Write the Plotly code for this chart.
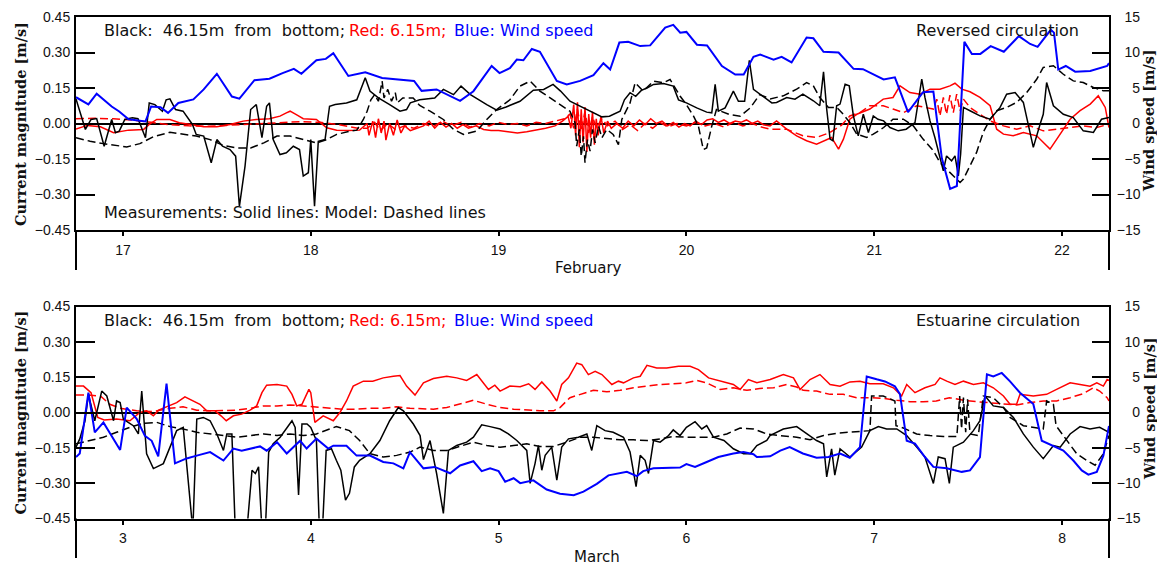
import plotly.graph_objects as go

# ---------------- February episode (reversed circulation) ----------------
feb_wind_t = [16.75, 16.816, 16.86, 16.94, 16.98, 17.03, 17.12, 17.15, 17.2, 17.24, 17.295, 17.375, 17.43, 17.5,
              17.58, 17.62, 17.70, 17.78, 17.85, 17.91, 17.95, 18.03, 18.08, 18.12, 18.2, 18.29, 18.38, 18.55,
              18.59, 18.67, 18.795, 18.866, 18.963, 19.005, 19.06, 19.097, 19.132, 19.177, 19.22, 19.31, 19.363,
              19.434, 19.505, 19.558, 19.594, 19.643, 19.69, 19.754, 19.807, 19.887, 19.93, 19.967, 20.0, 20.056,
              20.11, 20.189, 20.26, 20.305, 20.357, 20.393, 20.464, 20.507, 20.56, 20.64, 20.676, 20.73, 20.81,
              20.89, 20.94, 21.05, 21.11, 21.18, 21.26, 21.315, 21.36, 21.404, 21.44, 21.48, 21.52, 21.565, 21.62,
              21.69, 21.77, 21.83, 21.87, 21.94, 21.957, 21.98, 22.02, 22.07, 22.15, 22.24, 22.25]
feb_wind = [3.7, 2.7, 4.2, 2.4, 1.7, 0.6, 0.3, 2.4, 2.3, 1.5, 2.9, 3.4, 4.8, 7.0,
            3.8, 3.5, 6.1, 6.3, 7.1, 7.7, 7.0, 8.9, 9.1, 9.9, 6.7, 7.2, 6.4, 6.0,
            4.6, 4.8, 3.2, 4.55, 8.1, 7.1, 7.8, 9.0, 8.9, 10.5, 10.1, 6.0, 5.5,
            6.0, 6.8, 8.5, 7.6, 11.4, 11.5, 10.9, 11.0, 13.5, 13.9, 12.8, 12.9, 11.1,
            11.0, 8.1, 6.9, 6.9, 9.4, 9.7, 9.0, 9.4, 8.6, 12.1, 12.0, 10.1, 10.0,
            7.7, 7.65, 6.2, 6.5, 1.6, 4.4, 4.5, -4.9, -9.2, -8.8, 11.5, 9.8, 9.8, 10.9,
            10.1, 12.3, 11.2, 10.8, 13.2, 12.8, 7.6, 8.1, 7.3, 7.4, 8.1, 8.5]

# measured current, 46.15 m from bottom
feb_obs46_t = [16.75, 16.77, 16.80, 16.83, 16.86, 16.90, 16.94, 16.96, 16.98, 17.01, 17.05, 17.08, 17.12, 17.14,
               17.17, 17.21, 17.23, 17.25, 17.28, 17.32, 17.37, 17.39, 17.43, 17.47, 17.50, 17.53, 17.57, 17.60,
               17.62, 17.65, 17.68, 17.71, 17.74, 17.765, 17.78, 17.80, 17.836, 17.87, 17.907, 17.94, 17.96,
               17.987, 18.0, 18.02, 18.04, 18.076, 18.10, 18.13, 18.19, 18.245, 18.29, 18.315, 18.36, 18.42,
               18.475, 18.51, 18.53, 18.58, 18.66, 18.706, 18.76, 18.80, 18.85, 18.937, 18.99, 19.04, 19.114,
               19.185, 19.24, 19.29, 19.33, 19.38, 19.47, 19.55, 19.59, 19.647, 19.67, 19.70, 19.73, 19.76, 19.79,
               19.825, 19.878, 19.93, 19.958, 20.0, 20.055, 20.108, 20.135, 20.153, 20.17, 20.206, 20.25, 20.277,
               20.31, 20.335, 20.357, 20.41, 20.455, 20.48, 20.534, 20.578, 20.62, 20.676, 20.71, 20.73, 20.747,
               20.765, 20.78, 20.8, 20.818, 20.845, 20.867, 20.889, 20.915, 20.942, 20.969, 20.995, 21.02, 21.05,
               21.084, 21.128, 21.17, 21.217, 21.253, 21.27, 21.297, 21.323, 21.35, 21.368, 21.385, 21.412, 21.43,
               21.448, 21.46, 21.475, 21.51, 21.563, 21.617, 21.67, 21.705, 21.75, 21.794, 21.847, 21.883, 21.9,
               21.918, 21.954, 22.007, 22.06, 22.113, 22.167, 22.21, 22.25]
feb_obs46 = [0.104, 0.052, -0.025, 0.017, 0.021, -0.096, 0.017, -0.039, -0.032, 0.017, 0.024, 0.02, -0.06, 0.087,
             0.08, 0.052, 0.10, 0.104, 0.059, 0.052, -0.004, -0.046, -0.053, -0.166, -0.068, -0.096, -0.11, -0.138,
             -0.35, -0.18, 0.059, 0.08, -0.06, 0.073, 0.087, -0.068, -0.131, -0.124, -0.096, -0.11, -0.222,
             -0.208, -0.068, -0.35, -0.075, -0.068, 0.073, 0.08, 0.087, 0.10, 0.193, 0.137, 0.108, 0.08,
             0.052, 0.059, 0.087, 0.10, 0.108, 0.144, 0.122, 0.158, 0.122, 0.08, 0.056, 0.07, 0.094,
             0.141, 0.144, 0.165, 0.137, 0.094, 0.059, 0.028, 0.031, 0.052, 0.10, 0.13, 0.115, 0.14, 0.15,
             0.165, 0.169, 0.158, 0.10, 0.087, 0.066, 0.048, 0.045, 0.165, 0.052, 0.066, 0.137, 0.094,
             0.094, 0.267, 0.144, 0.115, 0.087, 0.089, 0.11, 0.103, 0.124, 0.096, 0.075, 0.218, 0.06,
             -0.066, -0.073, 0.075, 0.082, 0.166, 0.159, 0.032, -0.052, 0.039, -0.038, 0.032, 0.018, 0.011,
             -0.017, -0.031, -0.024, 0.004, 0.187, 0.11, 0.011, -0.059, -0.15, -0.2, -0.137, -0.158, -0.137,
             -0.221, -0.13, 0.068, 0.054, 0.032, 0.018, 0.068, 0.124, 0.131, 0.089, -0.101, -0.003, 0.039,
             0.173, 0.075, 0.039, 0.025, -0.031, -0.038, 0.018, 0.025]

# modelled current, 46.15 m from bottom
feb_mod46_t = [16.75, 16.825, 16.895, 17.02, 17.09, 17.162, 17.25, 17.32, 17.39, 17.464, 17.535, 17.605, 17.68,
               17.75, 17.82, 17.89, 17.96, 18.03, 18.085, 18.138, 18.21, 18.245, 18.28, 18.30, 18.32, 18.34, 18.36,
               18.38, 18.39, 18.41, 18.43, 18.45, 18.46, 18.49, 18.545, 18.58, 18.635, 18.706, 18.76, 18.813,
               18.884, 18.937, 18.99, 19.06, 19.114, 19.168, 19.22, 19.274, 19.327, 19.38, 19.407, 19.416, 19.43,
               19.44, 19.452, 19.46, 19.473, 19.487, 19.5, 19.514, 19.532, 19.55, 19.576, 19.61, 19.638, 19.656,
               19.70, 19.727, 19.77, 19.825, 19.878, 19.913, 19.967, 20.0, 20.038, 20.064, 20.09, 20.108, 20.135,
               20.16, 20.23, 20.286, 20.34, 20.39, 20.446, 20.516, 20.587, 20.64, 20.676, 20.71, 20.756, 20.8,
               20.835, 20.87, 20.907, 20.96, 20.995, 21.05, 21.1, 21.155, 21.208, 21.26, 21.315, 21.35, 21.385,
               21.42, 21.457, 21.475, 21.51, 21.545, 21.58, 21.617, 21.652, 21.705, 21.758, 21.812, 21.865, 21.9,
               21.954, 22.007, 22.06, 22.113, 22.167, 22.22, 22.25]
feb_mod46 = [-0.06, -0.075, -0.085, -0.099, -0.085, -0.056, -0.037, -0.046, -0.053, -0.068, -0.093, -0.103, -0.103,
             -0.082, -0.053, -0.053, -0.068, -0.082, -0.068, -0.046, -0.032, -0.028, 0.017, 0.052, 0.10, 0.122, 0.094,
             0.179, 0.108, 0.144, 0.094, 0.13, 0.087, 0.108, 0.108, 0.076, 0.052, 0.017, -0.025, -0.046,
             -0.032, 0.017, 0.059, 0.10, 0.158, 0.179, 0.137, 0.108, 0.08, 0.052, 0.003, -0.096, -0.025,
             -0.138, -0.054, -0.166, -0.068, -0.117, -0.025, -0.082, -0.011, -0.06, -0.025, -0.046, -0.089, 0.017,
             0.087, 0.172, 0.137, 0.179, 0.172, 0.186, 0.115, 0.08, 0.031, -0.011, -0.11, -0.103, -0.011,
             0.059, 0.038, 0.031, 0.066, 0.122, 0.104, 0.117, 0.145, 0.173, 0.159, 0.11, 0.068, 0.068,
             0.039, 0.004, -0.045, -0.059, -0.045, -0.017, 0.018, 0.018, -0.01, -0.066, -0.115, -0.165, -0.193,
             -0.221, -0.249, -0.235, -0.179, -0.122, -0.038, 0.018, 0.054, 0.068, 0.089, 0.131, 0.187, 0.237,
             0.244, 0.208, 0.18, 0.173, 0.152, 0.138, 0.138]

# measured current, 6.15 m from bottom
feb_obs6_t = [16.75, 16.81, 16.88, 16.95, 17.03, 17.11, 17.14, 17.18, 17.25, 17.3, 17.36, 17.43, 17.5, 17.57, 17.64,
              17.71, 17.78, 17.836, 17.87, 17.89, 17.93, 17.96, 18.03, 18.085, 18.138, 18.2, 18.26, 18.3, 18.31,
              18.33, 18.345, 18.36, 18.375, 18.39, 18.40, 18.42, 18.44, 18.46, 18.48, 18.50, 18.53, 18.56, 18.60,
              18.63, 18.66, 18.69, 18.72, 18.75, 18.78, 18.81, 18.84, 18.88, 18.92, 18.96, 19.0, 19.05, 19.1,
              19.15, 19.2, 19.25, 19.3, 19.34, 19.37, 19.385, 19.40, 19.41, 19.42, 19.43, 19.44, 19.45, 19.46,
              19.47, 19.48, 19.49, 19.50, 19.51, 19.52, 19.53, 19.545, 19.56, 19.58, 19.60, 19.63, 19.66, 19.69,
              19.72, 19.75, 19.78, 19.81, 19.84, 19.87, 19.9, 19.93, 19.96, 19.99, 20.02, 20.05, 20.08, 20.11,
              20.14, 20.17, 20.2, 20.23, 20.26, 20.29, 20.32, 20.35, 20.38, 20.41, 20.445, 20.48, 20.534, 20.587,
              20.64, 20.693, 20.747, 20.773, 20.81, 20.836, 20.87, 20.907, 20.977, 21.048, 21.1, 21.137, 21.19,
              21.244, 21.297, 21.35, 21.403, 21.43, 21.466, 21.51, 21.563, 21.617, 21.652, 21.688, 21.74, 21.794,
              21.865, 21.936, 21.972, 22.007, 22.043, 22.096, 22.15, 22.193, 22.23, 22.25]
feb_obs6 = [-0.023, -0.008, -0.014, -0.039, -0.028, -0.025, -0.004, 0.017, 0.017, 0.003, -0.004, -0.014, -0.014,
            -0.004, 0.01, 0.017, 0.02, 0.031, 0.045, 0.052, 0.034, 0.02, 0.017, -0.018, -0.028, -0.03, -0.028, 0.0,
            -0.05, 0.01, -0.06, 0.02, -0.04, 0.01, -0.07, 0.0, -0.05, 0.015, -0.04, -0.01, -0.03, -0.02, -0.01,
            0.01, -0.02, 0.005, -0.015, 0.0, -0.02, -0.005, -0.02, -0.01, -0.025, -0.03, -0.03, -0.035, -0.04,
            -0.035, -0.028, -0.02, -0.01, 0.01, 0.03, -0.02, 0.08, -0.05, 0.09, -0.1, 0.06, -0.08, 0.07,
            -0.12, 0.04, -0.06, 0.05, -0.09, 0.02, -0.05, 0.03, -0.04, 0.01, -0.02, 0.0, -0.02, 0.01,
            -0.01, 0.015, -0.005, 0.02, 0.0, 0.01, -0.01, 0.005, -0.015, 0.0, -0.01, 0.01, -0.005, 0.015,
            0.02, 0.005, 0.015, 0.0, 0.01, 0.005, 0.015, 0.0, 0.01, -0.005, -0.01, 0.011, -0.024, -0.052,
            -0.073, -0.087, -0.066, -0.059, -0.108, -0.066, 0.018, 0.039, 0.061, 0.103, 0.11, 0.159, 0.131,
            0.124, 0.145, 0.145, 0.159, 0.17, 0.145, 0.134, 0.11, 0.075, -0.024, -0.045, -0.052, -0.038,
            -0.052, -0.108, -0.066, -0.024, 0.018, 0.054, 0.082, 0.117, 0.068, -0.017]

# modelled current, 6.15 m from bottom
feb_mod6_t = [16.75, 16.85, 16.95, 17.05, 17.15, 17.25, 17.35, 17.45, 17.55, 17.65, 17.75, 17.85, 17.95, 18.05,
              18.15, 18.25, 18.3, 18.34, 18.37, 18.41, 18.45, 18.5, 18.55, 18.6, 18.65, 18.7, 18.75, 18.8, 18.85,
              18.9, 18.95, 19.0, 19.05, 19.1, 19.15, 19.2, 19.25, 19.3, 19.35, 19.38, 19.40, 19.42, 19.44, 19.46,
              19.48, 19.50, 19.52, 19.55, 19.58, 19.62, 19.66, 19.7, 19.74, 19.78, 19.82, 19.86, 19.9, 19.95,
              20.0, 20.05, 20.1, 20.15, 20.2, 20.25, 20.3, 20.35, 20.4, 20.445, 20.534, 20.62, 20.693, 20.765,
              20.826, 20.87, 20.924, 20.977, 21.048, 21.1, 21.155, 21.226, 21.315, 21.333, 21.35, 21.368, 21.385,
              21.403, 21.421, 21.439, 21.457, 21.475, 21.51, 21.563, 21.617, 21.688, 21.758, 21.83, 21.9,
              21.972, 22.043, 22.113, 22.185, 22.25]
feb_mod6 = [0.02, 0.022, 0.02, 0.015, 0.005, -0.005, -0.01, -0.012, -0.008, -0.004, 0.0, 0.004, 0.008, 0.005,
            -0.005, -0.02, -0.02, 0.005, -0.03, 0.0, -0.025, -0.01, -0.02, 0.0, -0.015, 0.01, -0.01, 0.005, -0.015,
            0.0, -0.01, 0.005, -0.005, 0.0, -0.01, 0.005, 0.0, 0.01, 0.02, 0.04, -0.02, 0.06, -0.03, 0.05,
            -0.04, 0.03, -0.02, 0.02, -0.01, 0.01, -0.025, -0.005, -0.03, 0.0, -0.02, 0.005, -0.015, 0.0,
            -0.01, 0.005, -0.01, 0.0, -0.015, 0.005, -0.01, 0.0, -0.015, -0.024, -0.024, -0.052, -0.059, -0.038,
            -0.007, 0.032, 0.046, 0.075, 0.075, 0.061, 0.046, 0.075, 0.061, 0.103, 0.032, 0.11, 0.039,
            0.12, 0.046, 0.124, 0.053, 0.103, 0.068, 0.039, 0.011, -0.01, -0.024, -0.01, -0.031,
            -0.024, -0.017, -0.01, -0.017, -0.003]

# ---------------- March episode (estuarine circulation) ----------------
mar_wind_t = [2.75, 2.77, 2.816, 2.85, 2.896, 2.985, 3.02, 3.073, 3.117, 3.153, 3.188, 3.232, 3.277, 3.339, 3.393,
              3.464, 3.535, 3.588, 3.632, 3.677, 3.73, 3.765, 3.82, 3.872, 3.943, 3.978, 4.03, 4.093, 4.12, 4.19,
              4.244, 4.315, 4.386, 4.44, 4.493, 4.528, 4.6, 4.66, 4.742, 4.795, 4.866, 4.91, 4.955, 5.0, 5.035,
              5.08, 5.115, 5.185, 5.256, 5.327, 5.4, 5.452, 5.523, 5.585, 5.647, 5.683, 5.736, 5.77, 5.825, 5.895,
              5.966, 6.0, 6.046, 6.108, 6.17, 6.25, 6.304, 6.357, 6.375, 6.446, 6.5, 6.55, 6.62, 6.693, 6.756,
              6.818, 6.87, 6.924, 6.96, 7.013, 7.057, 7.11, 7.137, 7.173, 7.217, 7.27, 7.315, 7.386, 7.466, 7.51,
              7.563, 7.6, 7.634, 7.679, 7.723, 7.776, 7.847, 7.892, 7.954, 8.007, 8.06, 8.105, 8.14, 8.185, 8.22,
              8.25]
mar_wind = [-6.3, -5.8, 2.8, -2.8, -1.4, -5.3, 0.7, -0.9, -3.3, -4.0, -6.2, 4.1, -7.2, -6.5, -6.1,
            -5.6, -6.8, -5.1, -5.4, -5.1, -4.8, -5.4, -4.2, -5.8, -4.0, -5.1, -3.7, -5.1, -4.7, -4.7,
            -6.1, -6.1, -7.0, -7.2, -7.9, -5.6, -7.9, -7.7, -8.6, -7.5, -6.9, -8.3, -7.9, -8.3, -9.8,
            -9.3, -10.0, -9.6, -10.9, -11.5, -11.7, -11.2, -10.1, -8.9, -8.6, -8.4, -9.0, -8.3, -7.9, -7.9,
            -7.8, -7.3, -7.7, -7.0, -6.3, -5.8, -5.6, -5.9, -6.3, -6.2, -5.4, -4.9, -5.8, -6.4, -6.3,
            -5.8, -6.4, -4.9, 5.1, 4.7, 4.4, 3.7, 2.6, -4.0, -4.4, -6.3, -7.7, -7.9, -8.4, -8.2,
            -6.3, 5.4, 5.1, 5.6, 4.4, 2.8, 1.2, -4.0, -4.7, -5.4, -6.8, -8.2, -8.8, -8.4, -6.1,
            -1.9]

mar_obs46_t = [2.75, 2.77, 2.798, 2.816, 2.833, 2.85, 2.887, 2.914, 2.95, 2.966, 2.985, 3.002, 3.028, 3.055, 3.082,
               3.1, 3.126, 3.162, 3.215, 3.25, 3.286, 3.321, 3.348, 3.372, 3.393, 3.428, 3.464, 3.5, 3.535, 3.553,
               3.58, 3.598, 3.66, 3.687, 3.705, 3.722, 3.74, 3.758, 3.776, 3.8, 3.837, 3.872, 3.9, 3.917, 3.935,
               3.953, 3.98, 4.0, 4.03, 4.046, 4.062, 4.082, 4.11, 4.136, 4.16, 4.185, 4.206, 4.232, 4.26, 4.315,
               4.368, 4.42, 4.466, 4.493, 4.546, 4.582, 4.6, 4.635, 4.67, 4.706, 4.733, 4.777, 4.83, 4.866, 4.91,
               4.955, 5.008, 5.052, 5.097, 5.15, 5.168, 5.194, 5.212, 5.23, 5.248, 5.283, 5.31, 5.336, 5.372,
               5.425, 5.47, 5.496, 5.523, 5.567, 5.61, 5.665, 5.7, 5.732, 5.754, 5.78, 5.798, 5.825, 5.86, 5.905,
               5.93, 5.966, 6.0, 6.046, 6.082, 6.108, 6.144, 6.2, 6.25, 6.304, 6.34, 6.375, 6.428, 6.445, 6.516,
               6.587, 6.64, 6.693, 6.73, 6.747, 6.773, 6.79, 6.818, 6.871, 6.933, 6.977, 7.022, 7.066, 7.12, 7.173,
               7.226, 7.27, 7.315, 7.341, 7.377, 7.4, 7.421, 7.475, 7.528, 7.563, 7.59, 7.634, 7.688, 7.741, 7.794,
               7.847, 7.9, 7.954, 7.99, 8.043, 8.096, 8.149, 8.2, 8.25]
mar_obs46 = [-0.147, -0.112, -0.035, 0.077, 0.021, -0.035, 0.091, 0.07, -0.035, 0.049, 0.042, -0.028, -0.042, -0.056,
             -0.091, 0.091, -0.175, -0.238, -0.217, -0.147, -0.077, -0.063, -0.301, -0.50, -0.028, -0.021, -0.035,
             -0.091, -0.161, -0.091, -0.091, -0.50, -0.50, -0.245, -0.259, -0.231, -0.50, -0.50, -0.168, -0.133,
             -0.105, -0.063, -0.035, -0.063, -0.35, -0.049, -0.049, -0.063, -0.119, -0.50, -0.50, -0.161, -0.154,
             -0.203, -0.245, -0.372, -0.343, -0.231, -0.203, -0.175, -0.119, -0.035, 0.021, 0.007, -0.049, -0.098,
             -0.2, -0.119, -0.259, -0.428, -0.161, -0.14, -0.126, -0.105, -0.052, -0.06, -0.07, -0.091, -0.119,
             -0.161, -0.301, -0.217, -0.14, -0.245, -0.182, -0.147, -0.287, -0.147, -0.112, -0.105, -0.091, -0.161,
             -0.056, -0.077, -0.084, -0.105, -0.168, -0.315, -0.182, -0.203, -0.259, -0.119, -0.126, -0.098,
             -0.074, -0.098, -0.063, -0.039, -0.07, -0.056, -0.105, -0.119, -0.154, -0.175, -0.175, -0.14, -0.119,
             -0.098, -0.07, -0.06, -0.091, -0.119, -0.133, -0.273, -0.154, -0.266, -0.154, -0.189, -0.147, -0.077,
             -0.06, -0.07, -0.07, -0.098, -0.147, -0.189, -0.301, -0.189, -0.196, -0.301, -0.147, -0.126, -0.077,
             -0.035, 0.07, 0.028, 0.021, -0.021, -0.091, -0.147, -0.196, -0.14, -0.147, -0.091, -0.06, -0.07,
             -0.063, -0.084]

mar_mod46_t = [2.75, 2.83, 2.896, 2.966, 3.037, 3.108, 3.18, 3.25, 3.32, 3.393, 3.464, 3.535, 3.605, 3.677, 3.75,
               3.82, 3.89, 3.96, 4.03, 4.1, 4.136, 4.206, 4.26, 4.315, 4.386, 4.457, 4.528, 4.582, 4.653, 4.724,
               4.795, 4.866, 4.937, 5.008, 5.08, 5.15, 5.22, 5.292, 5.363, 5.434, 5.505, 5.576, 5.647, 5.718, 5.79,
               5.86, 5.93, 6.0, 6.073, 6.144, 6.215, 6.286, 6.357, 6.428, 6.5, 6.587, 6.658, 6.73, 6.8, 6.871,
               6.942, 6.977, 6.986, 7.048, 7.11, 7.116, 7.155, 7.226, 7.297, 7.368, 7.44, 7.455, 7.465, 7.475,
               7.487, 7.497, 7.51, 7.554, 7.581, 7.634, 7.688, 7.723, 7.794, 7.865, 7.9, 7.918, 7.954, 7.968,
               8.007, 8.078, 8.131, 8.176, 8.22, 8.25]
mar_mod46 = [-0.133, -0.116, -0.105, -0.084, -0.063, -0.046, -0.042, -0.06, -0.07, -0.084, -0.091, -0.098, -0.105,
             -0.098, -0.091, -0.098, -0.091, -0.098, -0.091, -0.07, -0.06, -0.077, -0.119, -0.175, -0.189, -0.182,
             -0.168, -0.147, -0.161, -0.161, -0.144, -0.126, -0.14, -0.147, -0.14, -0.133, -0.144, -0.144, -0.126,
             -0.105, -0.105, -0.112, -0.116, -0.116, -0.119, -0.112, -0.102, -0.105, -0.105, -0.105, -0.091,
             -0.066, -0.07, -0.091, -0.098, -0.105, -0.116, -0.098, -0.088, -0.084, -0.077, -0.077, 0.07, 0.07,
             0.049, -0.056, -0.066, -0.091, -0.098, -0.102, -0.102, 0.07, -0.07, 0.063, -0.084, 0.056, -0.091,
             -0.098, 0.07, 0.063, 0.021, -0.021, -0.056, -0.066, -0.07, 0.049, 0.035, -0.056, -0.098, -0.175,
             -0.203, -0.224, -0.175, -0.098]

mar_obs6_t = [2.75, 2.79, 2.83, 2.866, 2.9, 2.966, 3.037, 3.09, 3.126, 3.162, 3.19, 3.23, 3.286, 3.33, 3.375, 3.41,
              3.446, 3.49, 3.522, 3.55, 3.588, 3.632, 3.677, 3.712, 3.74, 3.765, 3.82, 3.872, 3.9, 3.925, 3.953,
              3.99, 4.0, 4.022, 4.066, 4.12, 4.155, 4.19, 4.226, 4.28, 4.33, 4.386, 4.44, 4.475, 4.51, 4.555, 4.6,
              4.653, 4.724, 4.777, 4.83, 4.884, 4.946, 4.98, 5.008, 5.06, 5.115, 5.16, 5.194, 5.23, 5.274, 5.31,
              5.336, 5.372, 5.416, 5.443, 5.478, 5.514, 5.55, 5.603, 5.638, 5.665, 5.718, 5.754, 5.79, 5.842,
              5.895, 5.958, 6.02, 6.064, 6.118, 6.18, 6.25, 6.286, 6.33, 6.375, 6.446, 6.516, 6.57, 6.605, 6.658,
              6.711, 6.765, 6.818, 6.871, 6.924, 6.977, 7.048, 7.102, 7.146, 7.173, 7.217, 7.27, 7.324, 7.35,
              7.386, 7.43, 7.475, 7.528, 7.581, 7.634, 7.688, 7.723, 7.758, 7.776, 7.847, 7.918, 7.971, 8.043,
              8.096, 8.149, 8.185, 8.22, 8.24, 8.25]
mar_obs6 = [0.112, 0.112, 0.084, -0.021, -0.032, -0.028, -0.035, 0.0, 0.007, -0.014, 0.01, 0.024, 0.042, 0.066,
            0.049, 0.035, 0.007, 0.007, -0.014, -0.035, -0.014, -0.007, 0.01, 0.028, 0.084, 0.116, 0.119, 0.112,
            0.077, 0.028, 0.035, 0.098, 0.084, -0.042, -0.014, -0.035, 0.0, 0.049, 0.112, 0.133, 0.133, 0.147,
            0.154, 0.157, 0.112, 0.074, 0.126, 0.144, 0.154, 0.147, 0.136, 0.161, 0.098, 0.116, 0.091, 0.112,
            0.109, 0.122, 0.098, 0.13, 0.091, 0.049, 0.119, 0.147, 0.21, 0.203, 0.161, 0.175, 0.161, 0.119,
            0.133, 0.126, 0.147, 0.154, 0.2, 0.189, 0.189, 0.196, 0.196, 0.182, 0.147, 0.133, 0.119, 0.098,
            0.14, 0.126, 0.14, 0.161, 0.147, 0.098, 0.14, 0.161, 0.119, 0.112, 0.13, 0.133, 0.122, 0.122, 0.105,
            0.07, 0.119, 0.084, 0.105, 0.119, 0.147, 0.133, 0.119, 0.133, 0.119, 0.126, 0.105, 0.07, 0.035,
            0.035, 0.077, 0.07, 0.077, 0.098, 0.126, 0.119, 0.112, 0.126, 0.112, 0.14, 0.136]

mar_mod6_t = [2.75, 2.81, 2.88, 2.93, 2.985, 3.073, 3.162, 3.25, 3.32, 3.393, 3.464, 3.535, 3.605, 3.677, 3.75, 3.82,
              3.89, 3.96, 4.03, 4.1, 4.17, 4.244, 4.315, 4.386, 4.457, 4.528, 4.6, 4.653, 4.724, 4.795, 4.866,
              4.937, 5.008, 5.08, 5.15, 5.22, 5.292, 5.327, 5.38, 5.434, 5.505, 5.576, 5.647, 5.718, 5.79, 5.86,
              5.93, 6.0, 6.055, 6.108, 6.18, 6.25, 6.322, 6.39, 6.464, 6.5, 6.534, 6.587, 6.622, 6.693, 6.765,
              6.835, 6.906, 6.977, 7.048, 7.12, 7.19, 7.26, 7.33, 7.4, 7.475, 7.545, 7.616, 7.688, 7.758, 7.83,
              7.9, 7.971, 8.043, 8.113, 8.167, 8.2, 8.24, 8.25]
mar_mod6 = [0.074, 0.074, 0.07, 0.035, 0.018, 0.007, 0.004, 0.018, 0.024, 0.01, 0.007, 0.007, 0.01, 0.018, 0.028,
            0.028, 0.032, 0.028, 0.024, 0.018, 0.014, 0.014, 0.018, 0.018, 0.024, 0.018, 0.014, 0.014, 0.021,
            0.038, 0.052, 0.035, 0.021, 0.014, 0.01, 0.007, 0.007, 0.021, 0.063, 0.077, 0.094, 0.088, 0.094,
            0.105, 0.112, 0.119, 0.122, 0.126, 0.136, 0.126, 0.098, 0.105, 0.094, 0.102, 0.105, 0.112, 0.119,
            0.108, 0.094, 0.091, 0.077, 0.077, 0.063, 0.063, 0.06, 0.052, 0.046, 0.046, 0.049, 0.063, 0.052,
            0.046, 0.042, 0.035, 0.032, 0.042, 0.049, 0.049, 0.063, 0.08, 0.105, 0.091, 0.063, 0.049]

# ---------------- axis ticks ----------------
feb_days = [17, 18, 19, 20, 21, 22]
mar_days = [3, 4, 5, 6, 7, 8]
cur_ticks = [-0.45, -0.30, -0.15, 0.0, 0.15, 0.30, 0.45]
cur_labels = ["\u22120.45", "\u22120.30", "\u22120.15", "0.00", "0.15", "0.30", "0.45"]
wind_ticks = [-15, -10, -5, 0, 5, 10, 15]
FS = "\u2007"  # figure space keeps the right-hand labels flush right
wind_labels = ["\u221215", "\u221210", FS + "\u22125", FS + FS + "0", FS + FS + "5", FS + "10", FS + "15"]

# ---------------- page geometry (pixels) ----------------
W, H = 1157, 566
X0, X1 = 76, 1109
TOP_Y0, TOP_Y1 = 17, 230
BOT_Y0, BOT_Y1 = 306.5, 518.5


def fx(p):
    return p / W


def fy(p):
    return 1 - p / H


BLACK = "#000000"
RED = "#ff0000"
BLUE = "#0000ff"
DASH = "8px,4px"
TICKFONT = dict(family="Liberation Sans, Arial, sans-serif", size=14, color="#111111")

fig = go.Figure()


def add_panel(xa, ya, ya2, t_w, w, t_o46, o46, t_m46, m46, t_o6, o6, t_m6, m6):
    fig.add_trace(go.Scatter(x=t_w, y=w, xaxis=xa, yaxis=ya2, mode="lines",
                             line=dict(color=BLUE, width=2), showlegend=False))
    fig.add_trace(go.Scatter(x=t_o6, y=o6, xaxis=xa, yaxis=ya, mode="lines",
                             line=dict(color=RED, width=1.5), showlegend=False))
    fig.add_trace(go.Scatter(x=t_m6, y=m6, xaxis=xa, yaxis=ya, mode="lines",
                             line=dict(color=RED, width=1.5, dash=DASH), showlegend=False))
    fig.add_trace(go.Scatter(x=t_o46, y=o46, xaxis=xa, yaxis=ya, mode="lines",
                             line=dict(color=BLACK, width=1.5), showlegend=False))
    fig.add_trace(go.Scatter(x=t_m46, y=m46, xaxis=xa, yaxis=ya, mode="lines",
                             line=dict(color=BLACK, width=1.5, dash=DASH), showlegend=False))


add_panel("x", "y", "y2", feb_wind_t, feb_wind, feb_obs46_t, feb_obs46, feb_mod46_t, feb_mod46,
          feb_obs6_t, feb_obs6, feb_mod6_t, feb_mod6)
add_panel("x2", "y3", "y4", mar_wind_t, mar_wind, mar_obs46_t, mar_obs46, mar_mod46_t, mar_mod46,
          mar_obs6_t, mar_obs6, mar_mod6_t, mar_mod6)


def xaxis_cfg(rng, ticks, anchor):
    return dict(domain=[fx(X0), fx(X1)], range=rng, tickvals=ticks, ticktext=[str(t) for t in ticks],
                ticks="outside", ticklen=4, tickwidth=1.5, tickcolor=BLACK,
                showline=True, linewidth=2, linecolor=BLACK, mirror=True,
                showgrid=False, zeroline=False, anchor=anchor, tickfont=TICKFONT,
                ticklabelstandoff=2, automargin=False, fixedrange=True)


def ycur_cfg(dom, anchor):
    return dict(domain=dom, range=[-0.45, 0.45], tickvals=cur_ticks, ticktext=cur_labels,
                ticks="inside", ticklen=19, tickwidth=1.5, tickcolor=BLACK,
                showline=True, linewidth=2, linecolor=BLACK, showgrid=False,
                zeroline=True, zerolinecolor=BLACK, zerolinewidth=1.5,
                anchor=anchor, tickfont=TICKFONT, ticklabelstandoff=1, automargin=False, fixedrange=True)


def ywind_cfg(over, anchor):
    return dict(overlaying=over, side="right", range=[-15, 15], tickvals=wind_ticks, ticktext=wind_labels,
                ticks="inside", ticklen=17, tickwidth=1.5, tickcolor=BLACK,
                showline=True, linewidth=2, linecolor=BLACK, showgrid=False, zeroline=False,
                anchor=anchor, tickfont=TICKFONT, ticklabelstandoff=3, automargin=False, fixedrange=True)


top_dom = [fy(TOP_Y1), fy(TOP_Y0)]
bot_dom = [fy(BOT_Y1), fy(BOT_Y0)]

fig.update_layout(
    template="none",
    width=W, height=H, margin=dict(l=0, r=0, t=0, b=0, pad=0, autoexpand=False),
    paper_bgcolor="white", plot_bgcolor="white", showlegend=False,
    xaxis=xaxis_cfg([16.75, 22.25], feb_days, "y"),
    yaxis=ycur_cfg(top_dom, "x"),
    yaxis2=ywind_cfg("y", "x"),
    xaxis2=xaxis_cfg([2.75, 8.25], mar_days, "y3"),
    yaxis3=ycur_cfg(bot_dom, "x2"),
    yaxis4=ywind_cfg("y3", "x2"),
)

# left / right frame lines run on below each time axis
shapes = []
for y_top, y_end in ((TOP_Y1, 270), (BOT_Y1, 558)):
    for xp in (X0, X1):
        shapes.append(dict(type="line", xref="paper", yref="paper", x0=fx(xp), x1=fx(xp),
                           y0=fy(y_top), y1=fy(y_end), line=dict(color=BLACK, width=2)))
fig.update_layout(shapes=shapes)

TXT = dict(family="DejaVu Sans", size=16)
TITLE = dict(family="DejaVu Serif", size=14.5, color="#111111")
ann = []
for yc, label, xr in ((31, "Reversed circulation", 1081), (320, "Estuarine circulation", 1082)):
    ann.append(dict(text="Black:\u00a0\u00a046.15m\u00a0\u00a0from\u00a0\u00a0bottom;", x=fx(102), y=fy(yc),
                    xanchor="left", yanchor="middle", font=dict(TXT, color="#111111")))
    ann.append(dict(text="Red: 6.15m;", x=fx(347), y=fy(yc), xanchor="left", yanchor="middle",
                    font=dict(TXT, color=RED)))
    ann.append(dict(text="Blue: Wind speed", x=fx(452), y=fy(yc), xanchor="left", yanchor="middle",
                    font=dict(TXT, color=BLUE)))
    ann.append(dict(text=label, x=fx(xr), y=fy(yc), xanchor="right", yanchor="middle",
                    font=dict(TXT, color="#111111")))
ann.append(dict(text="Measurements: Solid lines: Model: Dashed lines", x=fx(102), y=fy(212.5),
                xanchor="left", yanchor="middle", font=dict(TXT, color="#111111")))
ann.append(dict(text="February", x=fx(588), y=fy(268), xanchor="center", yanchor="middle",
                font=dict(family="DejaVu Sans", size=15, color="#111111")))
ann.append(dict(text="March", x=fx(597), y=fy(557), xanchor="center", yanchor="middle",
                font=dict(family="DejaVu Sans", size=15, color="#111111")))
for yc in (124, 412.5):
    ann.append(dict(text="<b>Current magnitude [m/s]</b>", x=fx(20), y=fy(yc), textangle=-90,
                    xanchor="center", yanchor="middle", font=TITLE))
for yc in (121, 409):
    ann.append(dict(text="<b>Wind speed [m/s]</b>", x=fx(1149), y=fy(yc), textangle=-90,
                    xanchor="center", yanchor="middle", font=TITLE))
for a in ann:
    a.update(xref="paper", yref="paper", showarrow=False)
fig.update_layout(annotations=ann)

fig.write_html("out.html")
